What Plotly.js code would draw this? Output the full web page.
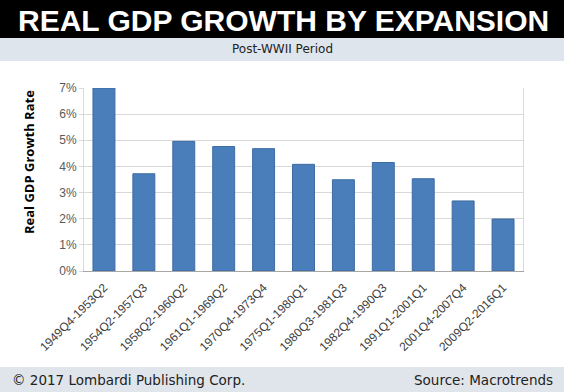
<!DOCTYPE html>
<html>
<head>
<meta charset="utf-8">
<script src="https://cdn.plot.ly/plotly-3.0.1.min.js"></script>
<style>html,body{margin:0;padding:0;background:#fff;}#chart{width:564px;height:392px;}</style>
</head>
<body>
<div id="chart"></div>
<script>
const periods = ["1949Q4-1953Q2","1954Q2-1957Q3","1958Q2-1960Q2","1961Q1-1969Q2","1970Q4-1973Q4","1975Q1-1980Q1","1980Q3-1981Q3","1982Q4-1990Q3","1991Q1-2001Q1","2001Q4-2007Q4","2009Q2-2016Q1"];
const growthRates = [7.0, 3.72, 4.96, 4.76, 4.68, 4.08, 3.49, 4.15, 3.53, 2.68, 1.99];
const yTickValues = [0, 1, 2, 3, 4, 5, 6, 7];
const yTickLabels = ["0%", "1%", "2%", "3%", "4%", "5%", "6%", "7%"];

const W = 564, H = 392;
const M = {l: 84, r: 41, t: 88, b: 121};
const PW = W - M.l - M.r, PH = H - M.t - M.b;
const px2x = p => (p - M.l) / PW;
const px2y = p => (H - M.b - p) / PH;

const shapes = [
  {type:'rect', xref:'paper', yref:'paper', x0:px2x(0), x1:px2x(W), y0:px2y(38), y1:px2y(0), fillcolor:'#000000', line:{width:0}, layer:'below'},
  {type:'rect', xref:'paper', yref:'paper', x0:px2x(0), x1:px2x(W), y0:px2y(61), y1:px2y(38), fillcolor:'#dfe5ed', line:{width:0}, layer:'below'},
  {type:'rect', xref:'paper', yref:'paper', x0:px2x(0), x1:px2x(W), y0:px2y(H), y1:px2y(367), fillcolor:'#e0e5eb', line:{width:0}, layer:'below'}
];

const annotations = [
  {text:'<b>REAL GDP GROWTH BY EXPANSION</b>', xref:'paper', yref:'paper', x:px2x(283), y:px2y(20), xanchor:'center', yanchor:'middle', showarrow:false, font:{family:'Liberation Sans, Arial, sans-serif', size:30, color:'#ffffff'}},
  {text:'Post-WWII Period', xref:'paper', yref:'paper', x:px2x(282), y:px2y(49), xanchor:'center', yanchor:'middle', showarrow:false, font:{family:'DejaVu Sans, sans-serif', size:12, color:'#222222'}},
  {text:'© 2017 Lombardi Publishing Corp.', xref:'paper', yref:'paper', x:px2x(10), y:px2y(380), xanchor:'left', yanchor:'middle', showarrow:false, font:{family:'DejaVu Sans, sans-serif', size:13.5, color:'#222222'}},
  {text:'Source: Macrotrends', xref:'paper', yref:'paper', x:px2x(555), y:px2y(380), xanchor:'right', yanchor:'middle', showarrow:false, font:{family:'DejaVu Sans, sans-serif', size:13.5, color:'#222222'}},
  {text:'<b>Real GDP Growth Rate</b>', xref:'paper', yref:'paper', x:px2x(29), y:px2y(162), xanchor:'center', yanchor:'middle', textangle:-90, showarrow:false, font:{family:'Open Sans, sans-serif', size:13, color:'#000000'}}
];

const trace = {
  type:'bar', x:periods, y:growthRates,
  marker:{color:'#4a7ebb', line:{color:'#3d6ba3', width:1}},
  hoverinfo:'skip'
};

const layout = {
  width:W, height:H, margin:M,
  paper_bgcolor:'#ffffff', plot_bgcolor:'#ffffff',
  showlegend:false, bargap:0.45,
  font:{family:'Liberation Sans, Arial, sans-serif'},
  xaxis:{type:'category', tickangle:-45, ticklabelstandoff:4, tickfont:{family:'Liberation Sans, Arial, sans-serif', size:12, color:'#404040'}, showgrid:false, showline:true, linecolor:'#a6a6a6', linewidth:1, ticks:'', zeroline:false, mirror:false},
  yaxis:{range:[0,7], tickmode:'array', tickvals:yTickValues, ticktext:yTickLabels, tickfont:{family:'Liberation Sans, Arial, sans-serif', size:12, color:'#595959'}, showgrid:true, gridcolor:'#d9d9d9', gridwidth:1, zeroline:false, showline:true, linecolor:'#d9d9d9', linewidth:1, mirror:true, ticks:'outside', ticklen:4, tickcolor:'#d9d9d9'},
  shapes:shapes, annotations:annotations
};

Plotly.newPlot('chart', [trace], layout, {staticPlot:true, displayModeBar:false});
</script>
</body>
</html>
